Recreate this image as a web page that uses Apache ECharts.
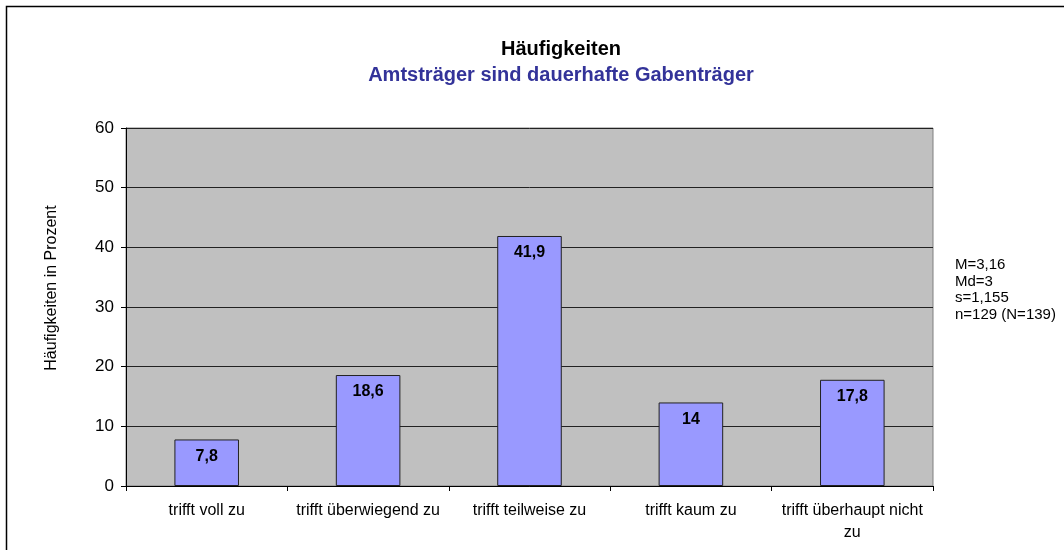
<!DOCTYPE html>
<html>
<head>
<meta charset="utf-8">
<script src="https://cdn.jsdelivr.net/npm/echarts@6/dist/echarts.min.js"></script>
<style>
  html, body { margin: 0; padding: 0; background: #fff; }
  #chart { width: 1064px; height: 550px; }
</style>
</head>
<body>
<div id="chart"></div>
<script>
const categories = ['trifft voll zu', 'trifft überwiegend zu', 'trifft teilweise zu', 'trifft kaum zu', 'trifft überhaupt nicht\nzu']
const values = [7.8, 18.6, 41.9, 14, 17.8]
const statLines = ['M=3,16', 'Md=3', 's=1,155', 'n=129 (N=139)']

const font = 'Arial, "Liberation Sans", sans-serif'
const chart = echarts.init(document.getElementById('chart'))

chart.setOption({
  animation: false,
  title: {
    text: 'Häufigkeiten',
    subtext: 'Amtsträger sind dauerhafte Gabenträger',
    left: 556,
    textAlign: 'center',
    top: 34,
    itemGap: 6,
    textStyle: { fontFamily: font, fontSize: 20, fontWeight: 'bold', color: '#000' },
    subtextStyle: { fontFamily: font, fontSize: 20, fontWeight: 'bold', color: '#333399' },
  },
  graphic: [
    {
      type: 'rect',
      shape: { x: 6.5, y: 6.5, width: 1100, height: 600 },
      style: { fill: 'none', stroke: '#000', lineWidth: 1.5 },
      silent: true,
    },
    {
      type: 'text',
      left: 955,
      top: 257,
      style: {
        text: statLines.join('\n'),
        font: '15px ' + font,
        lineHeight: 16.5,
        fill: '#000',
      },
    },
    {
      type: 'text',
      x: 52,
      y: 288,
      rotation: Math.PI / 2,
      style: {
        text: 'Häufigkeiten in Prozent',
        font: '16px ' + font,
        fill: '#000',
        align: 'center',
        verticalAlign: 'middle',
      },
    },
  ],
  grid: {
    left: 126,
    top: 128,
    width: 807,
    height: 358,
    show: true,
    backgroundColor: '#c0c0c0',
    borderColor: '#808080',
    borderWidth: 1,
  },
  xAxis: {
    type: 'category',
    data: categories,
    axisLine: { lineStyle: { color: '#000' } },
    axisTick: { show: true, alignWithLabel: false, length: 5, lineStyle: { color: '#000' } },
    axisLabel: { fontFamily: font, fontSize: 16, color: '#000', margin: 14, lineHeight: 22, interval: 0 },
  },
  yAxis: {
    type: 'value',
    min: 0,
    max: 60,
    interval: 10,
    axisLine: { show: true, lineStyle: { color: '#000' } },
    axisTick: { show: true, length: 5, lineStyle: { color: '#000' } },
    axisLabel: { fontFamily: font, fontSize: 17, color: '#000', margin: 12 },
    splitLine: { lineStyle: { color: '#222', width: 1 } },
  },
  series: [
    {
      type: 'bar',
      data: values,
      barWidth: '40%',
      itemStyle: { color: '#9999ff', borderColor: '#222', borderWidth: 1 },
      label: {
        show: true,
        position: 'insideTop',
        distance: 9,
        formatter: p => String(p.value).replace('.', ','),
        fontFamily: font,
        fontSize: 16,
        fontWeight: 'bold',
        color: '#000',
      },
    },
  ],
})
</script>
</body>
</html>
